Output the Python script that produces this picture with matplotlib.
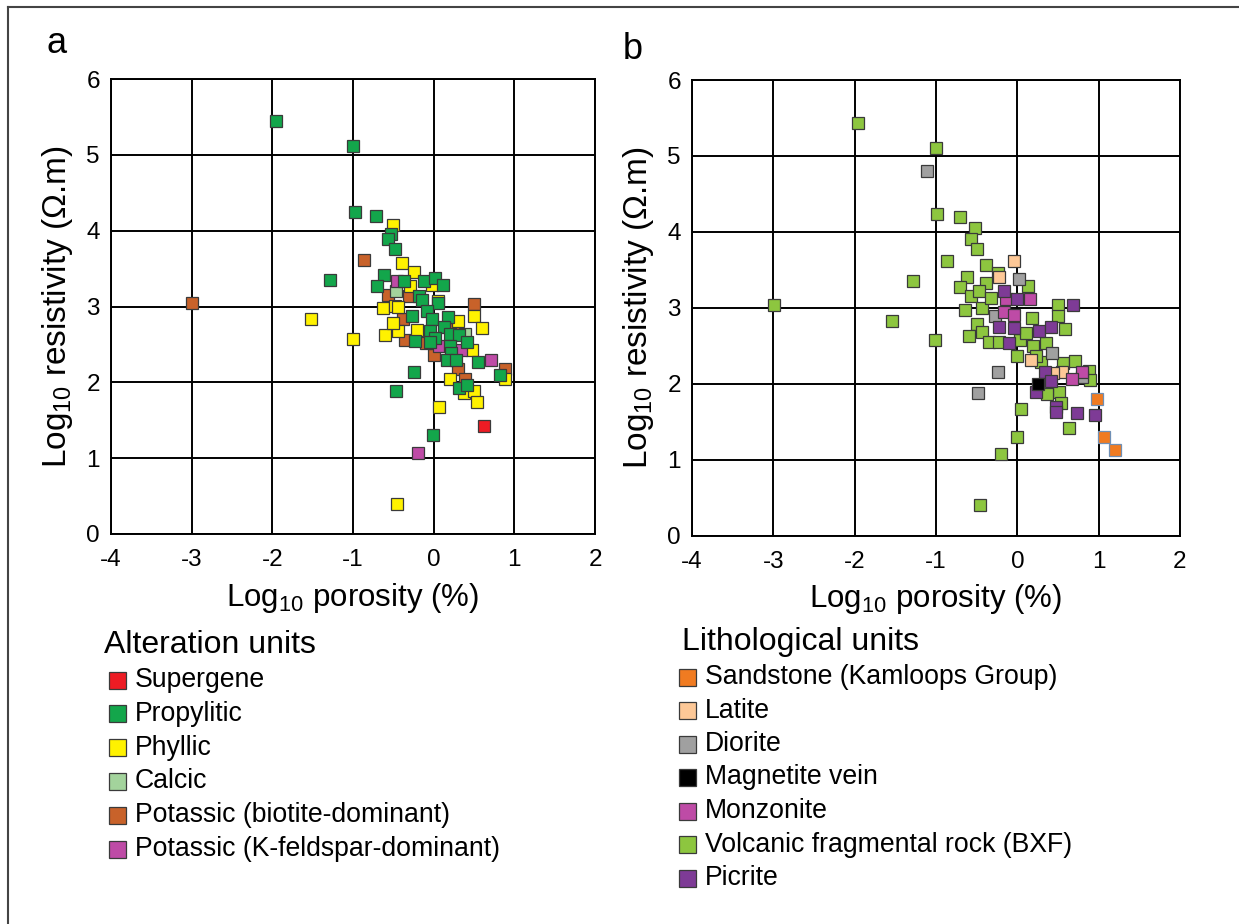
import matplotlib.pyplot as plt
from matplotlib.lines import Line2D
from matplotlib.patches import Rectangle

plt.rcParams['font.family'] = ['Liberation Sans', 'DejaVu Sans']
plt.rcParams['mathtext.fontset'] = 'custom'
plt.rcParams['mathtext.rm'] = 'Liberation Sans'
plt.rcParams['mathtext.it'] = 'Liberation Sans'
plt.rcParams['axes.unicode_minus'] = False

# ---- panel a: alteration units (log10 porosity %, log10 resistivity ohm.m)
biotite_x = [-3.0, -0.86, -0.57, -0.31, -0.38, -0.35, 0.50, 0.27, 0.00, 0.30,
             0.39, 0.88, -0.09]
biotite_y = [3.04, 3.61, 3.15, 3.14, 2.84, 2.56, 3.03, 2.70, 2.36, 2.18,
             2.04, 2.18, 2.52]
phyllic_x = [-0.51, -0.39, -0.24, -0.29, -0.02, -0.63, -0.48, -0.44, 0.05,
             0.50, 0.60, -1.52, -1.0, -0.60, -0.44, -0.50, -0.21, 0.30, 0.48,
             0.20, 0.37, 0.50, 0.54, 0.88, 0.06, -0.46]
phyllic_y = [4.07, 3.57, 3.46, 3.27, 3.29, 2.98, 3.01, 3.00, 3.07,
             2.88, 2.72, 2.83, 2.57, 2.63, 2.68, 2.78, 2.69, 2.81, 2.43,
             2.04, 1.86, 1.89, 1.74, 2.04, 1.67, 0.40]
calcic_x = [-0.47, 0.39]
calcic_y = [3.21, 2.64]
kspar_x = [-0.46, 0.71, -0.20, 0.06, 0.34]
kspar_y = [3.33, 2.30, 1.07, 2.48, 2.43]
propylitic_x = [-1.96, -1.0, -0.98, -0.71, -0.53, -0.57, -0.48, -1.28, -0.61,
                -0.70, -0.37, -0.12, 0.02, 0.12, -0.18, -0.15, 0.05, -0.08,
                -0.27, -0.02, 0.18, 0.13, -0.04, 0.02, -0.23, -0.04, 0.20,
                0.32, 0.41, 0.20, 0.22, 0.17, 0.55, 0.28, 0.82, 0.32, 0.41,
                -0.24, -0.47, -0.01]
propylitic_y = [5.45, 5.11, 4.24, 4.19, 3.96, 3.89, 3.76, 3.35, 3.41,
                3.27, 3.33, 3.34, 3.37, 3.28, 3.14, 3.09, 3.05, 2.94,
                2.88, 2.84, 2.86, 2.73, 2.68, 2.59, 2.55, 2.53, 2.64,
                2.62, 2.53, 2.48, 2.39, 2.29, 2.27, 2.30, 2.10, 1.93, 1.96,
                2.14, 1.88, 1.30]
supergene_x = [0.63]
supergene_y = [1.43]

# ---- panel b: lithological units
volcanic_x = [-1.96, -1.0, -2.99, -0.46, -0.99, -0.71, -0.52, -0.57, -0.50,
              -0.87, -1.28, -1.54, -1.01, -0.39, -0.24, -0.62, -0.70, -0.38,
              -0.57, -0.47, -0.64, -0.44, -0.32, 0.13, 0.50, 0.50, 0.59, 0.18,
              -0.50, -0.60, -0.44, -0.35, -0.23, 0.03, 0.19, 0.35, 0.00, 0.29,
              0.56, 0.71, 0.88, 0.89, 0.51, 0.54, 0.37, 0.05, 0.64, -0.01,
              -0.20, 0.23, 0.11]
volcanic_y = [5.43, 5.11, 3.03, 0.40, 4.24, 4.19, 4.05, 3.91, 3.77,
              3.61, 3.35, 2.82, 2.57, 3.56, 3.46, 3.41, 3.27, 3.33,
              3.15, 3.22, 2.97, 3.00, 3.13, 3.28, 3.04, 2.89, 2.72, 2.86,
              2.78, 2.63, 2.68, 2.55, 2.55, 2.58, 2.49, 2.53, 2.36, 2.28,
              2.27, 2.30, 2.17, 2.05, 1.89, 1.75, 1.87, 1.67, 1.42, 1.30,
              1.07, 2.36, 2.67]
latite_x = [-0.04, -0.22, 0.17, 0.55, 0.44]
latite_y = [3.61, 3.41, 2.31, 2.16, 2.14]
diorite_x = [-1.11, 0.02, -0.28, 0.43, -0.24, -0.48, 0.80]
diorite_y = [4.80, 3.38, 2.89, 2.40, 2.15, 1.88, 2.09]
monzonite_x = [-0.14, 0.15, -0.17, -0.04, 0.80, 0.67]
monzonite_y = [3.11, 3.11, 2.95, 2.91, 2.15, 2.06]
picrite_x = [-0.17, -0.01, 0.69, -0.22, -0.04, 0.27, 0.42, -0.10, 0.34,
             0.42, 0.23, 0.47, 0.47, 0.73, 0.95]
picrite_y = [3.22, 3.11, 3.04, 2.74, 2.73, 2.70, 2.75, 2.54, 2.15,
             2.03, 1.89, 1.69, 1.63, 1.61, 1.59]
magnetite_x = [0.26]
magnetite_y = [2.0]
sandstone_x = [0.98, 1.07, 1.20]
sandstone_y = [1.80, 1.30, 1.12]

alteration_labels = ['Supergene', 'Propylitic', 'Phyllic', 'Calcic',
                     'Potassic (biotite-dominant)',
                     'Potassic (K-feldspar-dominant)']
alteration_colors = ['#ED1C24', '#13A64B', '#FFF200', '#A3D39C', '#C8622A',
                     '#BE4BA6']
litho_labels = ['Sandstone (Kamloops Group)', 'Latite', 'Diorite',
                'Magnetite vein', 'Monzonite', 'Volcanic fragmental rock (BXF)',
                'Picrite']
litho_colors = ['#F07B21', '#FDC897', '#A0A0A0', '#000000', '#BE4BA6',
                '#8DC63F', '#7E3B96']

W, H = 1239, 924
fig = plt.figure(figsize=(W / 100, H / 100), dpi=100)


def fx(px):
    return px / W


def fy(py):
    return 1 - py / H


def setup_axes(ax):
    ax.set_xlim(-4, 2)
    ax.set_ylim(0, 6)
    ax.set_xticks(range(-4, 3))
    ax.set_yticks(range(0, 7))
    ax.grid(True, color='black', linewidth=1.4)
    ax.set_axisbelow(True)
    for s in ax.spines.values():
        s.set_linewidth(1.4)
    ax.tick_params(length=0, labelsize=17.5)
    ax.tick_params(axis='x', pad=11)
    ax.tick_params(axis='y', pad=8)
    ax.set_xlabel('Log$_{10}$ porosity (%)', fontsize=22.5, labelpad=7)
    ax.set_ylabel('Log$_{10}$ resistivity (Ω.m)', fontsize=24, labelpad=8)


def scatter(ax, x, y, color, edge='#3a3a3a'):
    ax.plot(x, y, 's', ms=8.1, mfc=color, mec=edge, mew=0.9, linestyle='none',
            clip_on=False)


ax_a = fig.add_axes([fx(111), fy(534), fx(595 - 111), (534 - 79) / H])
setup_axes(ax_a)
scatter(ax_a, biotite_x, biotite_y, alteration_colors[4])
scatter(ax_a, phyllic_x, phyllic_y, alteration_colors[2])
scatter(ax_a, calcic_x, calcic_y, alteration_colors[3])
scatter(ax_a, kspar_x, kspar_y, alteration_colors[5])
scatter(ax_a, propylitic_x, propylitic_y, alteration_colors[1])
scatter(ax_a, supergene_x, supergene_y, alteration_colors[0])

ax_b = fig.add_axes([fx(692), fy(535.5), fx(1180 - 692), (535.5 - 80) / H])
setup_axes(ax_b)
scatter(ax_b, volcanic_x, volcanic_y, litho_colors[5])
scatter(ax_b, latite_x, latite_y, litho_colors[1])
scatter(ax_b, diorite_x, diorite_y, litho_colors[2])
scatter(ax_b, monzonite_x, monzonite_y, litho_colors[4])
scatter(ax_b, picrite_x, picrite_y, litho_colors[6])
scatter(ax_b, magnetite_x, magnetite_y, litho_colors[3])
scatter(ax_b, sandstone_x, sandstone_y, litho_colors[0], edge='#6F8FB5')

# panel letters
fig.text(fx(47), fy(53), 'a', fontsize=26, va='baseline')
fig.text(fx(623), fy(59), 'b', fontsize=26, va='baseline')


def legend(title, labels, colors, x0, title_y, first_y, step, box_x, text_x):
    fig.text(fx(x0), fy(title_y), title, fontsize=23, va='center')
    for i, (lab, col) in enumerate(zip(labels, colors)):
        cy = first_y + i * step
        fig.add_artist(Rectangle((fx(box_x), fy(cy + 8.5)), fx(17), 17 / H,
                                 facecolor=col, edgecolor='#3a3a3a',
                                 linewidth=0.9, transform=fig.transFigure))
        fig.text(fx(text_x), fy(cy), lab, fontsize=19.2, va='center')


legend('Alteration units', alteration_labels, alteration_colors,
       104, 645, 680, 33.8, 108.5, 135)
legend('Lithological units', litho_labels, litho_colors,
       682, 642, 677, 33.5, 679, 705)

# outer frame (only left and top edges fall inside the image)
fig.add_artist(Line2D([fx(8), fx(8)], [fy(7), 0], color='#444444',
                      linewidth=1.5, transform=fig.transFigure))
fig.add_artist(Line2D([fx(8), 1], [fy(7), fy(7)], color='#444444',
                      linewidth=1.5, transform=fig.transFigure))

fig.savefig('out.png', dpi=100)
